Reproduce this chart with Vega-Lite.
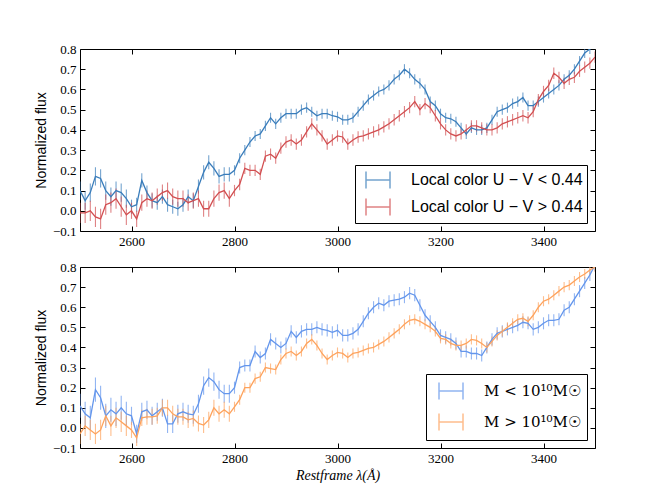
{
  "$schema": "https://vega.github.io/schema/vega-lite/v6.json",
  "padding": {"left": 33, "top": 39, "right": 5, "bottom": 5},
  "background": "white",
  "datasets": {
    "top": [
      {"w":2500,"f":0.10,"e":0.045,"s":"a"},{"w":2510,"f":0.05,"e":0.045,"s":"a"},{"w":2520,"f":0.09,"e":0.045,"s":"a"},{"w":2530,"f":0.17,"e":0.045,"s":"a"},{"w":2540,"f":0.16,"e":0.045,"s":"a"},
      {"w":2550,"f":0.10,"e":0.045,"s":"a"},{"w":2560,"f":0.07,"e":0.045,"s":"a"},{"w":2570,"f":0.10,"e":0.045,"s":"a"},{"w":2580,"f":0.09,"e":0.045,"s":"a"},{"w":2590,"f":0.06,"e":0.045,"s":"a"},
      {"w":2600,"f":0.02,"e":0.035,"s":"a"},{"w":2610,"f":0.03,"e":0.035,"s":"a"},{"w":2620,"f":0.15,"e":0.035,"s":"a"},{"w":2630,"f":0.09,"e":0.035,"s":"a"},{"w":2640,"f":0.05,"e":0.035,"s":"a"},
      {"w":2650,"f":0.04,"e":0.035,"s":"a"},{"w":2660,"f":0.07,"e":0.035,"s":"a"},{"w":2670,"f":0.03,"e":0.035,"s":"a"},{"w":2680,"f":0.02,"e":0.035,"s":"a"},{"w":2690,"f":0.01,"e":0.035,"s":"a"},
      {"w":2700,"f":0.03,"e":0.035,"s":"a"},{"w":2710,"f":0.07,"e":0.035,"s":"a"},{"w":2720,"f":0.05,"e":0.035,"s":"a"},{"w":2730,"f":0.12,"e":0.035,"s":"a"},{"w":2740,"f":0.19,"e":0.035,"s":"a"},
      {"w":2750,"f":0.24,"e":0.035,"s":"a"},{"w":2760,"f":0.21,"e":0.035,"s":"a"},{"w":2770,"f":0.17,"e":0.035,"s":"a"},{"w":2780,"f":0.18,"e":0.035,"s":"a"},{"w":2790,"f":0.18,"e":0.035,"s":"a"},
      {"w":2800,"f":0.20,"e":0.025,"s":"a"},{"w":2810,"f":0.26,"e":0.025,"s":"a"},{"w":2820,"f":0.30,"e":0.025,"s":"a"},{"w":2830,"f":0.34,"e":0.025,"s":"a"},{"w":2840,"f":0.37,"e":0.025,"s":"a"},
      {"w":2850,"f":0.38,"e":0.025,"s":"a"},{"w":2860,"f":0.42,"e":0.025,"s":"a"},{"w":2870,"f":0.46,"e":0.025,"s":"a"},{"w":2880,"f":0.43,"e":0.025,"s":"a"},{"w":2890,"f":0.46,"e":0.025,"s":"a"},
      {"w":2900,"f":0.48,"e":0.025,"s":"a"},{"w":2910,"f":0.48,"e":0.025,"s":"a"},{"w":2920,"f":0.48,"e":0.025,"s":"a"},{"w":2930,"f":0.50,"e":0.025,"s":"a"},{"w":2940,"f":0.51,"e":0.025,"s":"a"},
      {"w":2950,"f":0.49,"e":0.025,"s":"a"},{"w":2960,"f":0.47,"e":0.025,"s":"a"},{"w":2970,"f":0.48,"e":0.025,"s":"a"},{"w":2980,"f":0.48,"e":0.025,"s":"a"},{"w":2990,"f":0.47,"e":0.025,"s":"a"},
      {"w":3000,"f":0.465,"e":0.025,"s":"a"},{"w":3010,"f":0.45,"e":0.025,"s":"a"},{"w":3020,"f":0.45,"e":0.025,"s":"a"},{"w":3030,"f":0.46,"e":0.025,"s":"a"},{"w":3040,"f":0.49,"e":0.025,"s":"a"},
      {"w":3050,"f":0.52,"e":0.025,"s":"a"},{"w":3060,"f":0.55,"e":0.025,"s":"a"},{"w":3070,"f":0.57,"e":0.025,"s":"a"},{"w":3080,"f":0.59,"e":0.025,"s":"a"},{"w":3090,"f":0.60,"e":0.025,"s":"a"},
      {"w":3100,"f":0.62,"e":0.025,"s":"a"},{"w":3110,"f":0.65,"e":0.025,"s":"a"},{"w":3120,"f":0.67,"e":0.025,"s":"a"},{"w":3130,"f":0.70,"e":0.025,"s":"a"},{"w":3140,"f":0.68,"e":0.025,"s":"a"},
      {"w":3150,"f":0.65,"e":0.025,"s":"a"},{"w":3160,"f":0.63,"e":0.025,"s":"a"},{"w":3170,"f":0.60,"e":0.025,"s":"a"},{"w":3180,"f":0.54,"e":0.025,"s":"a"},{"w":3190,"f":0.52,"e":0.025,"s":"a"},
      {"w":3200,"f":0.48,"e":0.025,"s":"a"},{"w":3210,"f":0.46,"e":0.025,"s":"a"},{"w":3220,"f":0.455,"e":0.025,"s":"a"},{"w":3230,"f":0.44,"e":0.025,"s":"a"},{"w":3240,"f":0.41,"e":0.025,"s":"a"},
      {"w":3250,"f":0.38,"e":0.025,"s":"a"},{"w":3260,"f":0.41,"e":0.025,"s":"a"},{"w":3270,"f":0.40,"e":0.025,"s":"a"},{"w":3280,"f":0.40,"e":0.025,"s":"a"},{"w":3290,"f":0.41,"e":0.025,"s":"a"},
      {"w":3300,"f":0.45,"e":0.025,"s":"a"},{"w":3310,"f":0.49,"e":0.025,"s":"a"},{"w":3320,"f":0.50,"e":0.025,"s":"a"},{"w":3330,"f":0.51,"e":0.025,"s":"a"},{"w":3340,"f":0.53,"e":0.025,"s":"a"},
      {"w":3350,"f":0.54,"e":0.025,"s":"a"},{"w":3360,"f":0.56,"e":0.025,"s":"a"},{"w":3370,"f":0.52,"e":0.025,"s":"a"},{"w":3380,"f":0.52,"e":0.025,"s":"a"},{"w":3390,"f":0.54,"e":0.025,"s":"a"},
      {"w":3400,"f":0.56,"e":0.025,"s":"a"},{"w":3410,"f":0.58,"e":0.025,"s":"a"},{"w":3420,"f":0.60,"e":0.025,"s":"a"},{"w":3430,"f":0.62,"e":0.025,"s":"a"},{"w":3440,"f":0.65,"e":0.025,"s":"a"},
      {"w":3450,"f":0.67,"e":0.025,"s":"a"},{"w":3460,"f":0.70,"e":0.025,"s":"a"},{"w":3470,"f":0.74,"e":0.025,"s":"a"},{"w":3480,"f":0.78,"e":0.025,"s":"a"},{"w":3490,"f":0.80,"e":0.025,"s":"a"},
      {"w":3500,"f":0.83,"e":0.025,"s":"a"},

      {"w":2500,"f":-0.01,"e":0.05,"s":"b"},{"w":2510,"f":-0.01,"e":0.05,"s":"b"},{"w":2520,"f":0.00,"e":0.05,"s":"b"},{"w":2530,"f":-0.03,"e":0.05,"s":"b"},{"w":2540,"f":-0.04,"e":0.05,"s":"b"},
      {"w":2550,"f":0.03,"e":0.05,"s":"b"},{"w":2560,"f":0.04,"e":0.05,"s":"b"},{"w":2570,"f":0.06,"e":0.05,"s":"b"},{"w":2580,"f":0.02,"e":0.05,"s":"b"},{"w":2590,"f":-0.02,"e":0.05,"s":"b"},
      {"w":2600,"f":0.00,"e":0.04,"s":"b"},{"w":2610,"f":-0.04,"e":0.04,"s":"b"},{"w":2620,"f":0.04,"e":0.04,"s":"b"},{"w":2630,"f":0.06,"e":0.04,"s":"b"},{"w":2640,"f":0.05,"e":0.04,"s":"b"},
      {"w":2650,"f":0.07,"e":0.04,"s":"b"},{"w":2660,"f":0.09,"e":0.04,"s":"b"},{"w":2670,"f":0.10,"e":0.04,"s":"b"},{"w":2680,"f":0.07,"e":0.04,"s":"b"},{"w":2690,"f":0.06,"e":0.04,"s":"b"},
      {"w":2700,"f":0.06,"e":0.04,"s":"b"},{"w":2710,"f":0.04,"e":0.04,"s":"b"},{"w":2720,"f":0.05,"e":0.04,"s":"b"},{"w":2730,"f":0.06,"e":0.04,"s":"b"},{"w":2740,"f":0.01,"e":0.04,"s":"b"},
      {"w":2750,"f":0.01,"e":0.04,"s":"b"},{"w":2760,"f":0.06,"e":0.04,"s":"b"},{"w":2770,"f":0.09,"e":0.04,"s":"b"},{"w":2780,"f":0.10,"e":0.04,"s":"b"},{"w":2790,"f":0.06,"e":0.04,"s":"b"},
      {"w":2800,"f":0.10,"e":0.028,"s":"b"},{"w":2810,"f":0.13,"e":0.028,"s":"b"},{"w":2820,"f":0.21,"e":0.028,"s":"b"},{"w":2830,"f":0.20,"e":0.028,"s":"b"},{"w":2840,"f":0.20,"e":0.028,"s":"b"},
      {"w":2850,"f":0.18,"e":0.028,"s":"b"},{"w":2860,"f":0.27,"e":0.028,"s":"b"},{"w":2870,"f":0.28,"e":0.028,"s":"b"},{"w":2880,"f":0.26,"e":0.028,"s":"b"},{"w":2890,"f":0.31,"e":0.028,"s":"b"},
      {"w":2900,"f":0.34,"e":0.028,"s":"b"},{"w":2910,"f":0.35,"e":0.028,"s":"b"},{"w":2920,"f":0.33,"e":0.028,"s":"b"},{"w":2930,"f":0.35,"e":0.028,"s":"b"},{"w":2940,"f":0.39,"e":0.028,"s":"b"},
      {"w":2950,"f":0.43,"e":0.028,"s":"b"},{"w":2960,"f":0.40,"e":0.028,"s":"b"},{"w":2970,"f":0.37,"e":0.028,"s":"b"},{"w":2980,"f":0.33,"e":0.028,"s":"b"},{"w":2990,"f":0.35,"e":0.028,"s":"b"},
      {"w":3000,"f":0.37,"e":0.028,"s":"b"},{"w":3010,"f":0.365,"e":0.028,"s":"b"},{"w":3020,"f":0.33,"e":0.028,"s":"b"},{"w":3030,"f":0.35,"e":0.028,"s":"b"},{"w":3040,"f":0.365,"e":0.028,"s":"b"},
      {"w":3050,"f":0.37,"e":0.028,"s":"b"},{"w":3060,"f":0.38,"e":0.028,"s":"b"},{"w":3070,"f":0.39,"e":0.028,"s":"b"},{"w":3080,"f":0.40,"e":0.028,"s":"b"},{"w":3090,"f":0.415,"e":0.028,"s":"b"},
      {"w":3100,"f":0.43,"e":0.028,"s":"b"},{"w":3110,"f":0.45,"e":0.028,"s":"b"},{"w":3120,"f":0.47,"e":0.028,"s":"b"},{"w":3130,"f":0.49,"e":0.028,"s":"b"},{"w":3140,"f":0.51,"e":0.028,"s":"b"},
      {"w":3150,"f":0.54,"e":0.028,"s":"b"},{"w":3160,"f":0.50,"e":0.028,"s":"b"},{"w":3170,"f":0.53,"e":0.028,"s":"b"},{"w":3180,"f":0.51,"e":0.028,"s":"b"},{"w":3190,"f":0.47,"e":0.028,"s":"b"},
      {"w":3200,"f":0.43,"e":0.028,"s":"b"},{"w":3210,"f":0.40,"e":0.028,"s":"b"},{"w":3220,"f":0.38,"e":0.028,"s":"b"},{"w":3230,"f":0.37,"e":0.028,"s":"b"},{"w":3240,"f":0.38,"e":0.028,"s":"b"},
      {"w":3250,"f":0.40,"e":0.028,"s":"b"},{"w":3260,"f":0.42,"e":0.028,"s":"b"},{"w":3270,"f":0.42,"e":0.028,"s":"b"},{"w":3280,"f":0.41,"e":0.028,"s":"b"},{"w":3290,"f":0.40,"e":0.028,"s":"b"},
      {"w":3300,"f":0.40,"e":0.028,"s":"b"},{"w":3310,"f":0.41,"e":0.028,"s":"b"},{"w":3320,"f":0.43,"e":0.028,"s":"b"},{"w":3330,"f":0.44,"e":0.028,"s":"b"},{"w":3340,"f":0.45,"e":0.028,"s":"b"},
      {"w":3350,"f":0.46,"e":0.028,"s":"b"},{"w":3360,"f":0.47,"e":0.028,"s":"b"},{"w":3370,"f":0.46,"e":0.028,"s":"b"},{"w":3380,"f":0.49,"e":0.028,"s":"b"},{"w":3390,"f":0.55,"e":0.028,"s":"b"},
      {"w":3400,"f":0.59,"e":0.028,"s":"b"},{"w":3410,"f":0.62,"e":0.028,"s":"b"},{"w":3420,"f":0.68,"e":0.028,"s":"b"},{"w":3430,"f":0.66,"e":0.028,"s":"b"},{"w":3440,"f":0.63,"e":0.028,"s":"b"},
      {"w":3450,"f":0.65,"e":0.028,"s":"b"},{"w":3460,"f":0.66,"e":0.028,"s":"b"},{"w":3470,"f":0.69,"e":0.028,"s":"b"},{"w":3480,"f":0.71,"e":0.028,"s":"b"},{"w":3490,"f":0.73,"e":0.028,"s":"b"},
      {"w":3500,"f":0.76,"e":0.028,"s":"b"}
    ],
    "bot": [
      {"w":2500,"f":0.11,"e":0.06,"s":"c"},{"w":2510,"f":0.07,"e":0.06,"s":"c"},{"w":2520,"f":0.05,"e":0.06,"s":"c"},{"w":2530,"f":0.19,"e":0.06,"s":"c"},{"w":2540,"f":0.15,"e":0.06,"s":"c"},
      {"w":2550,"f":0.06,"e":0.06,"s":"c"},{"w":2560,"f":0.09,"e":0.06,"s":"c"},{"w":2570,"f":0.07,"e":0.06,"s":"c"},{"w":2580,"f":0.10,"e":0.06,"s":"c"},{"w":2590,"f":0.07,"e":0.06,"s":"c"},
      {"w":2600,"f":0.06,"e":0.045,"s":"c"},{"w":2610,"f":-0.03,"e":0.045,"s":"c"},{"w":2620,"f":0.08,"e":0.045,"s":"c"},{"w":2630,"f":0.09,"e":0.045,"s":"c"},{"w":2640,"f":0.06,"e":0.045,"s":"c"},
      {"w":2650,"f":0.08,"e":0.045,"s":"c"},{"w":2660,"f":0.10,"e":0.045,"s":"c"},{"w":2670,"f":0.02,"e":0.045,"s":"c"},{"w":2680,"f":0.02,"e":0.045,"s":"c"},{"w":2690,"f":0.07,"e":0.045,"s":"c"},
      {"w":2700,"f":0.08,"e":0.045,"s":"c"},{"w":2710,"f":0.07,"e":0.045,"s":"c"},{"w":2720,"f":0.065,"e":0.045,"s":"c"},{"w":2730,"f":0.12,"e":0.045,"s":"c"},{"w":2740,"f":0.21,"e":0.045,"s":"c"},
      {"w":2750,"f":0.25,"e":0.045,"s":"c"},{"w":2760,"f":0.23,"e":0.045,"s":"c"},{"w":2770,"f":0.19,"e":0.045,"s":"c"},{"w":2780,"f":0.17,"e":0.045,"s":"c"},{"w":2790,"f":0.17,"e":0.045,"s":"c"},
      {"w":2800,"f":0.20,"e":0.03,"s":"c"},{"w":2810,"f":0.30,"e":0.03,"s":"c"},{"w":2820,"f":0.31,"e":0.03,"s":"c"},{"w":2830,"f":0.31,"e":0.03,"s":"c"},{"w":2840,"f":0.38,"e":0.03,"s":"c"},
      {"w":2850,"f":0.35,"e":0.03,"s":"c"},{"w":2860,"f":0.37,"e":0.03,"s":"c"},{"w":2870,"f":0.44,"e":0.03,"s":"c"},{"w":2880,"f":0.42,"e":0.03,"s":"c"},{"w":2890,"f":0.40,"e":0.03,"s":"c"},
      {"w":2900,"f":0.42,"e":0.03,"s":"c"},{"w":2910,"f":0.48,"e":0.03,"s":"c"},{"w":2920,"f":0.45,"e":0.03,"s":"c"},{"w":2930,"f":0.48,"e":0.03,"s":"c"},{"w":2940,"f":0.49,"e":0.03,"s":"c"},
      {"w":2950,"f":0.49,"e":0.03,"s":"c"},{"w":2960,"f":0.50,"e":0.03,"s":"c"},{"w":2970,"f":0.49,"e":0.03,"s":"c"},{"w":2980,"f":0.485,"e":0.03,"s":"c"},{"w":2990,"f":0.475,"e":0.03,"s":"c"},
      {"w":3000,"f":0.485,"e":0.03,"s":"c"},{"w":3010,"f":0.46,"e":0.03,"s":"c"},{"w":3020,"f":0.46,"e":0.03,"s":"c"},{"w":3030,"f":0.47,"e":0.03,"s":"c"},{"w":3040,"f":0.49,"e":0.03,"s":"c"},
      {"w":3050,"f":0.53,"e":0.03,"s":"c"},{"w":3060,"f":0.57,"e":0.03,"s":"c"},{"w":3070,"f":0.60,"e":0.03,"s":"c"},{"w":3080,"f":0.62,"e":0.03,"s":"c"},{"w":3090,"f":0.61,"e":0.03,"s":"c"},
      {"w":3100,"f":0.63,"e":0.03,"s":"c"},{"w":3110,"f":0.635,"e":0.03,"s":"c"},{"w":3120,"f":0.64,"e":0.03,"s":"c"},{"w":3130,"f":0.65,"e":0.03,"s":"c"},{"w":3140,"f":0.67,"e":0.03,"s":"c"},
      {"w":3150,"f":0.66,"e":0.03,"s":"c"},{"w":3160,"f":0.61,"e":0.03,"s":"c"},{"w":3170,"f":0.56,"e":0.03,"s":"c"},{"w":3180,"f":0.53,"e":0.03,"s":"c"},{"w":3190,"f":0.50,"e":0.03,"s":"c"},
      {"w":3200,"f":0.46,"e":0.03,"s":"c"},{"w":3210,"f":0.45,"e":0.03,"s":"c"},{"w":3220,"f":0.44,"e":0.03,"s":"c"},{"w":3230,"f":0.42,"e":0.03,"s":"c"},{"w":3240,"f":0.38,"e":0.03,"s":"c"},
      {"w":3250,"f":0.38,"e":0.03,"s":"c"},{"w":3260,"f":0.37,"e":0.03,"s":"c"},{"w":3270,"f":0.37,"e":0.03,"s":"c"},{"w":3280,"f":0.36,"e":0.03,"s":"c"},{"w":3290,"f":0.40,"e":0.03,"s":"c"},
      {"w":3300,"f":0.44,"e":0.03,"s":"c"},{"w":3310,"f":0.47,"e":0.03,"s":"c"},{"w":3320,"f":0.48,"e":0.03,"s":"c"},{"w":3330,"f":0.49,"e":0.03,"s":"c"},{"w":3340,"f":0.50,"e":0.03,"s":"c"},
      {"w":3350,"f":0.51,"e":0.03,"s":"c"},{"w":3360,"f":0.525,"e":0.03,"s":"c"},{"w":3370,"f":0.52,"e":0.03,"s":"c"},{"w":3380,"f":0.49,"e":0.03,"s":"c"},{"w":3390,"f":0.50,"e":0.03,"s":"c"},
      {"w":3400,"f":0.52,"e":0.03,"s":"c"},{"w":3410,"f":0.535,"e":0.03,"s":"c"},{"w":3420,"f":0.535,"e":0.03,"s":"c"},{"w":3430,"f":0.54,"e":0.03,"s":"c"},{"w":3440,"f":0.585,"e":0.03,"s":"c"},
      {"w":3450,"f":0.60,"e":0.03,"s":"c"},{"w":3460,"f":0.64,"e":0.03,"s":"c"},{"w":3470,"f":0.68,"e":0.03,"s":"c"},{"w":3480,"f":0.72,"e":0.03,"s":"c"},{"w":3490,"f":0.76,"e":0.03,"s":"c"},
      {"w":3500,"f":0.81,"e":0.03,"s":"c"},

      {"w":2500,"f":-0.03,"e":0.05,"s":"d"},{"w":2510,"f":0.01,"e":0.05,"s":"d"},{"w":2520,"f":-0.01,"e":0.05,"s":"d"},{"w":2530,"f":-0.03,"e":0.05,"s":"d"},{"w":2540,"f":-0.01,"e":0.05,"s":"d"},
      {"w":2550,"f":0.06,"e":0.05,"s":"d"},{"w":2560,"f":0.01,"e":0.05,"s":"d"},{"w":2570,"f":0.05,"e":0.05,"s":"d"},{"w":2580,"f":0.03,"e":0.05,"s":"d"},{"w":2590,"f":0.01,"e":0.05,"s":"d"},
      {"w":2600,"f":-0.01,"e":0.04,"s":"d"},{"w":2610,"f":-0.05,"e":0.04,"s":"d"},{"w":2620,"f":0.05,"e":0.04,"s":"d"},{"w":2630,"f":0.055,"e":0.04,"s":"d"},{"w":2640,"f":0.055,"e":0.04,"s":"d"},
      {"w":2650,"f":0.06,"e":0.04,"s":"d"},{"w":2660,"f":0.10,"e":0.04,"s":"d"},{"w":2670,"f":0.10,"e":0.04,"s":"d"},{"w":2680,"f":0.07,"e":0.04,"s":"d"},{"w":2690,"f":0.055,"e":0.04,"s":"d"},
      {"w":2700,"f":0.055,"e":0.04,"s":"d"},{"w":2710,"f":0.04,"e":0.04,"s":"d"},{"w":2720,"f":0.047,"e":0.04,"s":"d"},{"w":2730,"f":0.022,"e":0.04,"s":"d"},{"w":2740,"f":0.014,"e":0.04,"s":"d"},
      {"w":2750,"f":0.04,"e":0.04,"s":"d"},{"w":2760,"f":0.10,"e":0.04,"s":"d"},{"w":2770,"f":0.07,"e":0.04,"s":"d"},{"w":2780,"f":0.09,"e":0.04,"s":"d"},{"w":2790,"f":0.07,"e":0.04,"s":"d"},
      {"w":2800,"f":0.105,"e":0.025,"s":"d"},{"w":2810,"f":0.14,"e":0.025,"s":"d"},{"w":2820,"f":0.20,"e":0.025,"s":"d"},{"w":2830,"f":0.20,"e":0.025,"s":"d"},{"w":2840,"f":0.245,"e":0.025,"s":"d"},
      {"w":2850,"f":0.254,"e":0.025,"s":"d"},{"w":2860,"f":0.30,"e":0.025,"s":"d"},{"w":2870,"f":0.295,"e":0.025,"s":"d"},{"w":2880,"f":0.29,"e":0.025,"s":"d"},{"w":2890,"f":0.34,"e":0.025,"s":"d"},
      {"w":2900,"f":0.37,"e":0.025,"s":"d"},{"w":2910,"f":0.38,"e":0.025,"s":"d"},{"w":2920,"f":0.36,"e":0.025,"s":"d"},{"w":2930,"f":0.38,"e":0.025,"s":"d"},{"w":2940,"f":0.42,"e":0.025,"s":"d"},
      {"w":2950,"f":0.44,"e":0.025,"s":"d"},{"w":2960,"f":0.41,"e":0.025,"s":"d"},{"w":2970,"f":0.37,"e":0.025,"s":"d"},{"w":2980,"f":0.34,"e":0.025,"s":"d"},{"w":2990,"f":0.36,"e":0.025,"s":"d"},
      {"w":3000,"f":0.375,"e":0.025,"s":"d"},{"w":3010,"f":0.37,"e":0.025,"s":"d"},{"w":3020,"f":0.35,"e":0.025,"s":"d"},{"w":3030,"f":0.37,"e":0.025,"s":"d"},{"w":3040,"f":0.375,"e":0.025,"s":"d"},
      {"w":3050,"f":0.385,"e":0.025,"s":"d"},{"w":3060,"f":0.395,"e":0.025,"s":"d"},{"w":3070,"f":0.40,"e":0.025,"s":"d"},{"w":3080,"f":0.415,"e":0.025,"s":"d"},{"w":3090,"f":0.43,"e":0.025,"s":"d"},
      {"w":3100,"f":0.45,"e":0.025,"s":"d"},{"w":3110,"f":0.47,"e":0.025,"s":"d"},{"w":3120,"f":0.49,"e":0.025,"s":"d"},{"w":3130,"f":0.515,"e":0.025,"s":"d"},{"w":3140,"f":0.535,"e":0.025,"s":"d"},
      {"w":3150,"f":0.54,"e":0.025,"s":"d"},{"w":3160,"f":0.53,"e":0.025,"s":"d"},{"w":3170,"f":0.515,"e":0.025,"s":"d"},{"w":3180,"f":0.50,"e":0.025,"s":"d"},{"w":3190,"f":0.48,"e":0.025,"s":"d"},
      {"w":3200,"f":0.445,"e":0.025,"s":"d"},{"w":3210,"f":0.44,"e":0.025,"s":"d"},{"w":3220,"f":0.42,"e":0.025,"s":"d"},{"w":3230,"f":0.41,"e":0.025,"s":"d"},{"w":3240,"f":0.41,"e":0.025,"s":"d"},
      {"w":3250,"f":0.42,"e":0.025,"s":"d"},{"w":3260,"f":0.44,"e":0.025,"s":"d"},{"w":3270,"f":0.435,"e":0.025,"s":"d"},{"w":3280,"f":0.42,"e":0.025,"s":"d"},{"w":3290,"f":0.40,"e":0.025,"s":"d"},
      {"w":3300,"f":0.43,"e":0.025,"s":"d"},{"w":3310,"f":0.46,"e":0.025,"s":"d"},{"w":3320,"f":0.48,"e":0.025,"s":"d"},{"w":3330,"f":0.50,"e":0.025,"s":"d"},{"w":3340,"f":0.52,"e":0.025,"s":"d"},
      {"w":3350,"f":0.54,"e":0.025,"s":"d"},{"w":3360,"f":0.545,"e":0.025,"s":"d"},{"w":3370,"f":0.53,"e":0.025,"s":"d"},{"w":3380,"f":0.56,"e":0.025,"s":"d"},{"w":3390,"f":0.60,"e":0.025,"s":"d"},
      {"w":3400,"f":0.63,"e":0.025,"s":"d"},{"w":3410,"f":0.64,"e":0.025,"s":"d"},{"w":3420,"f":0.66,"e":0.025,"s":"d"},{"w":3430,"f":0.68,"e":0.025,"s":"d"},{"w":3440,"f":0.70,"e":0.025,"s":"d"},
      {"w":3450,"f":0.71,"e":0.025,"s":"d"},{"w":3460,"f":0.73,"e":0.025,"s":"d"},{"w":3470,"f":0.75,"e":0.025,"s":"d"},{"w":3480,"f":0.765,"e":0.025,"s":"d"},{"w":3490,"f":0.785,"e":0.025,"s":"d"},
      {"w":3500,"f":0.80,"e":0.025,"s":"d"}
    ]
  },
  "vconcat": [
    {
      "width": 515,
      "height": 182,
      "data": {"name": "top"},
      "layer": [
        {
          "mark": {"type": "errorbar", "clip": true, "rule": {"opacity": 0.7, "strokeWidth": 1.1}},
          "encoding": {
            "x": {"field": "w", "type": "quantitative", "scale": {"domain": [2500, 3500], "nice": false, "zero": false},
                  "axis": {"values": [2600, 2800, 3000, 3200, 3400], "format": "d", "title": null}},
            "y": {"field": "f", "type": "quantitative", "scale": {"domain": [-0.1, 0.8], "nice": false, "zero": false},
                  "axis": {"values": [-0.1, 0, 0.1, 0.2, 0.3, 0.4, 0.5, 0.6, 0.7, 0.8], "format": ".1f", "title": "Normalized flux"}},
            "yError": {"field": "e"},
            "color": {"field": "s", "type": "nominal", "scale": {"domain": ["a", "b"], "range": ["#3a7dbb", "#d24f51"]},
                      "legend": {"labelExpr": "datum.label == 'a' ? 'Local color U − V < 0.44' : 'Local color U − V > 0.44'", "rowPadding": 3}}
          }
        },
        {
          "mark": {"type": "line", "clip": true, "strokeWidth": 1.3},
          "encoding": {
            "x": {"field": "w", "type": "quantitative", "axis": null},
            "y": {"field": "f", "type": "quantitative", "axis": null},
            "color": {"field": "s", "type": "nominal"}
          }
        },
        {
          "mark": {"type": "point", "opacity": 0},
          "encoding": {
            "x": {"field": "w", "type": "quantitative", "axis": {"orient": "top", "labels": false, "title": null, "values": [2600, 2800, 3000, 3200, 3400]}},
            "y": {"field": "f", "type": "quantitative", "axis": {"orient": "right", "labels": false, "title": null, "values": [-0.1, 0, 0.1, 0.2, 0.3, 0.4, 0.5, 0.6, 0.7, 0.8]}}
          }
        }
      ],
      "resolve": {"axis": {"x": "independent", "y": "independent"}}
    },
    {
      "width": 515,
      "height": 181,
      "data": {"name": "bot"},
      "layer": [
        {
          "mark": {"type": "errorbar", "clip": true, "rule": {"opacity": 0.7, "strokeWidth": 1.1}},
          "encoding": {
            "x": {"field": "w", "type": "quantitative", "scale": {"domain": [2500, 3500], "nice": false, "zero": false},
                  "axis": {"values": [2600, 2800, 3000, 3200, 3400], "format": "d", "title": "Restframe λ(Å)",
                           "titleFont": "Liberation Serif", "titleFontStyle": "italic", "titleFontSize": 14, "titleFontWeight": "normal", "titlePadding": 3}},
            "y": {"field": "f", "type": "quantitative", "scale": {"domain": [-0.1, 0.8], "nice": false, "zero": false},
                  "axis": {"values": [-0.1, 0, 0.1, 0.2, 0.3, 0.4, 0.5, 0.6, 0.7, 0.8], "format": ".1f", "title": "Normalized flux"}},
            "yError": {"field": "e"},
            "color": {"field": "s", "type": "nominal", "scale": {"domain": ["c", "d"], "range": ["#6496ec", "#fea35d"]},
                      "legend": {"labelExpr": "datum.label == 'c' ? 'M < 10¹⁰M☉' : 'M > 10¹⁰M☉'", "labelFont": "DejaVu Serif", "labelFontSize": 15, "rowPadding": 7, "padding": 6}}
          }
        },
        {
          "mark": {"type": "line", "clip": true, "strokeWidth": 1.3},
          "encoding": {
            "x": {"field": "w", "type": "quantitative", "axis": null},
            "y": {"field": "f", "type": "quantitative", "axis": null},
            "color": {"field": "s", "type": "nominal"}
          }
        },
        {
          "mark": {"type": "point", "opacity": 0},
          "encoding": {
            "x": {"field": "w", "type": "quantitative", "axis": {"orient": "top", "labels": false, "title": null, "values": [2600, 2800, 3000, 3200, 3400]}},
            "y": {"field": "f", "type": "quantitative", "axis": {"orient": "right", "labels": false, "title": null, "values": [-0.1, 0, 0.1, 0.2, 0.3, 0.4, 0.5, 0.6, 0.7, 0.8]}}
          }
        }
      ],
      "resolve": {"axis": {"x": "independent", "y": "independent"}}
    }
  ],
  "spacing": 11,
  "resolve": {"scale": {"color": "independent"}, "legend": {"color": "independent"}},
  "config": {
    "view": {"stroke": "black", "strokeWidth": 1},
    "axis": {
      "domain": false,
      "grid": false,
      "tickColor": "black",
      "tickSize": -5,
      "labelPadding": 9,
      "labelFont": "Liberation Serif",
      "labelFontSize": 13,
      "labelColor": "black",
      "titleFont": "Liberation Sans",
      "titleFontSize": 14,
      "titleFontWeight": "normal",
      "titleColor": "black"
    },
    "legend": {
      "orient": "bottom-right",
      "offset": 8,
      "title": null,
      "fillColor": "white",
      "strokeColor": "black",
      "padding": 4,
      "labelFont": "Liberation Sans",
      "labelFontSize": 16,
      "labelColor": "black",
      "labelLimit": 400,
      "rowPadding": 5,
      "symbolType": "M-1.2,-0.85V0.85M-1.2,0H1.2M1.2,-0.85V0.85",
      "symbolSize": 400,
      "symbolStrokeWidth": 1.5,
      "symbolFillColor": "transparent",
      "symbolOffset": 8,
      "labelOffset": 22
    }
  }
}
